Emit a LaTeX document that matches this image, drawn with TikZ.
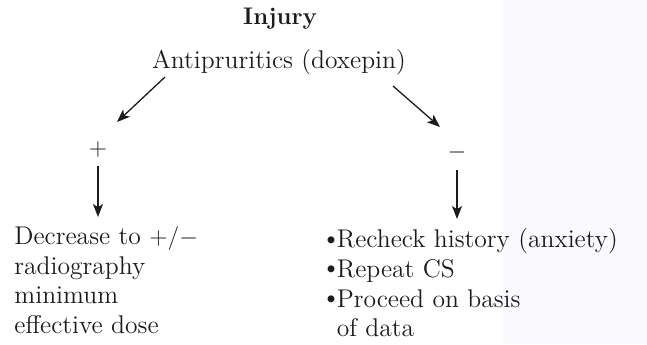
\documentclass[tikz,border=0pt]{standalone}
\usetikzlibrary{arrows.meta}
\definecolor{ink}{RGB}{28,28,28}
\definecolor{margin}{RGB}{250,249,253}
% bullet set close to the following word
\newcommand{\bul}{\raisebox{0.06em}{\textbullet}\kern-0.16em}
\begin{document}
\begin{tikzpicture}[x=0.5pt,y=-0.5pt,
  txt/.style={inner sep=0pt, text=ink, font=\fontsize{12.8}{14.85}\selectfont},
  arr/.style={draw=ink, line width=0.65pt, -{Stealth[length=6.5pt,width=5pt,inset=1.6pt]}}]
\useasboundingbox (0,0) rectangle (647,344);
% page background with the tinted strip at the right
\fill[white] (0,0) rectangle (647,344);
\fill[margin] (503,0) rectangle (647,344);

% heading and treatment
\node[inner sep=0pt, text=ink, anchor=base, font=\fontsize{12}{14}\selectfont\bfseries] (injury) at (280,24) {Injury};
\node[txt, anchor=base] (anti) at (279,68) {Antipruritics (doxepin)};

% outcome signs
\node[txt, anchor=base] (plus) at (98,155) {$+$};
\node[txt, anchor=base] (minus) at (457,158) {$-$};

% outcome actions
\node[txt, anchor=north west, align=left] (left) at (14,226)
  {Decrease to $+/-$\\radiography\\minimum\\effective dose};
\node[txt, anchor=north west, align=left] (right) at (321,228)
  {\bul Recheck history (anxiety)\\\bul Repeat CS\\\bul Proceed on basis\\\phantom{\bul}of data};

% arrow end points
\coordinate (la) at (165,77);
\coordinate (lb) at (117,122);
\coordinate (ra) at (393,86);
\coordinate (rb) at (440,127);
\coordinate (pa) at (98,166);
\coordinate (pb) at (98,217);
\coordinate (ma) at (457,170);
\coordinate (mb) at (457,219);

\draw[arr] (la) -- (lb);
\draw[arr] (ra) -- (rb);
\draw[arr] (pa) -- (pb);
\draw[arr] (ma) -- (mb);
\end{tikzpicture}
\end{document}
